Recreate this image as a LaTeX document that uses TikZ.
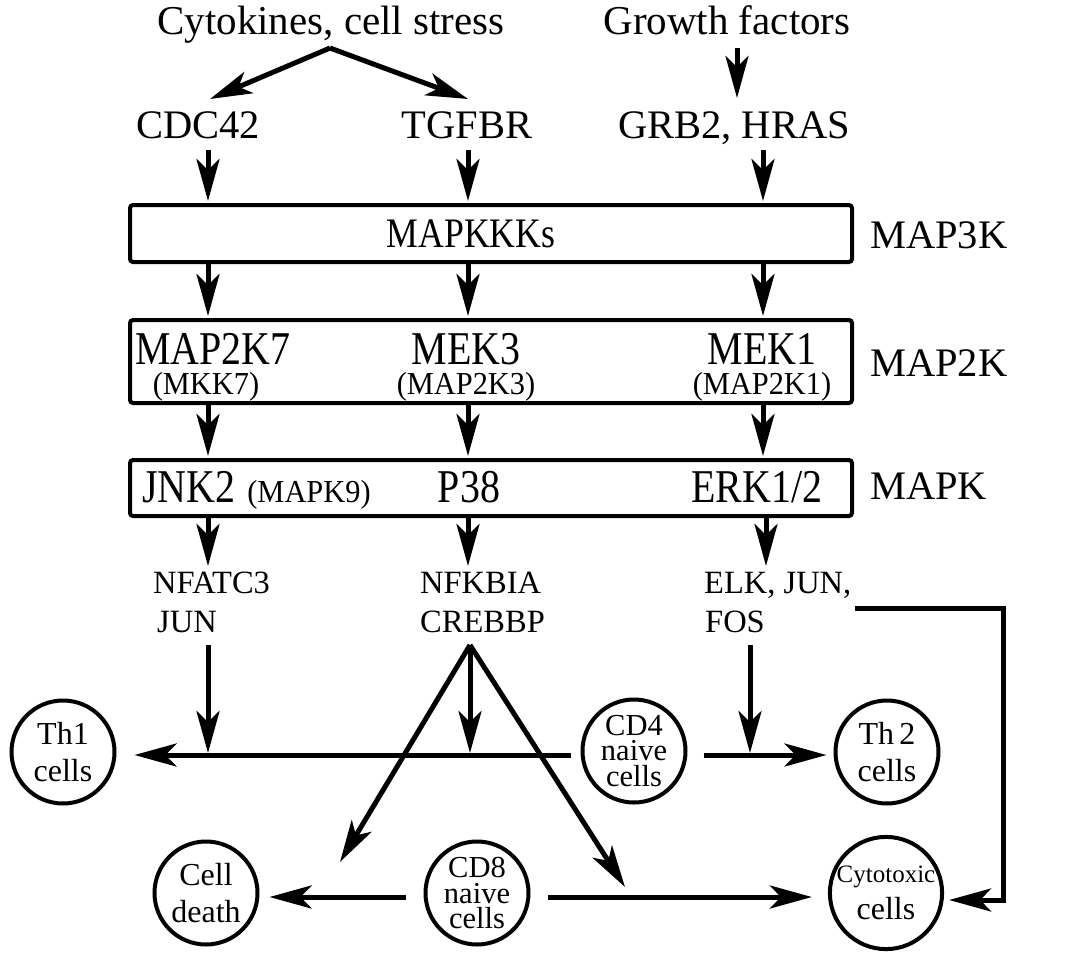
\documentclass[tikz,border=0pt]{standalone}
\usepackage{fontspec}
\setmainfont{Liberation Serif}
\newfontfamily\condfont{Liberation Serif}[FakeStretch=0.85]
\newfontfamily\parfont{Liberation Serif}[FakeStretch=0.95]
\usetikzlibrary{arrows.meta}
\newcommand\fsTitle{\fontsize{41}{45}\selectfont}
\newcommand\fsGene{\fontsize{40.5}{45}\selectfont}
\newcommand\fsKKK{\condfont\fontsize{42}{46}\selectfont}
\newcommand\fsBox{\condfont\fontsize{47}{52}\selectfont}
\newcommand\fsPar{\parfont\fontsize{32}{36}\selectfont}
\newcommand\fsSmall{\fontsize{32.5}{39}\selectfont}
\tikzset{
  arr/.style={line width=5pt, -{Stealth[length=42pt,width=23pt,inset=11pt]}},
  stagebox/.style={draw, line width=4pt, rounded corners=3pt, inner sep=0pt},
  lbl/.style={inner sep=0pt, anchor=base},
  lblw/.style={inner sep=0pt, anchor=base west},
  cell/.style={draw, circle, line width=4pt, minimum size=103pt, inner sep=0pt, align=center,
    font=\fontsize{32}{37}\selectfont},
  cellnaive/.style={cell, font=\fontsize{30.5}{25.5}\selectfont},
}
\begin{document}
\begin{tikzpicture}[x=1pt,y=-1pt]
\useasboundingbox (0,0) rectangle (1069,954);
% columns and rows
\coordinate (c1) at (208,0);
\coordinate (c2) at (468,0);
\coordinate (c3) at (763,0);
\coordinate (rowA) at (0,755);
\coordinate (rowB) at (0,897);

% sources
\node[lbl, font=\fsTitle] (cyt) at (331,34) {Cytokines, cell stress};
\node[lbl, font=\fsTitle] (gf) at (727,34) {Growth factors};
\node[lbl, font=\fsGene] (cdc) at (198,138) {CDC42};
\node[lbl, font=\fsGene] (tgf) at (467,138) {TGFBR};
\node[lbl, font=\fsGene] (grb) at (734,138) {GRB2, HRAS};
\coordinate (apexTop) at (330,48);

\draw[arr] (apexTop) -- (210,99);
\draw[arr] (apexTop) -- (468,99);
\draw[arr] ([yshift=-14pt]gf.base -| 737,0) -- (737,98);

% stage boxes
\node[stagebox, minimum width=722pt, minimum height=57pt] (b1) at (491,233.5) {};
\node[stagebox, minimum width=722pt, minimum height=83pt] (b2) at (491,361.5) {};
\node[stagebox, minimum width=722pt, minimum height=56pt] (b3) at (491,488) {};

\node[lbl, font=\fsKKK] (kkk) at (471,247) {MAPKKKs};
\node[lbl, font=\fsBox] (m2k7) at (213,364) {MAP2K7};
\node[lbl, font=\fsPar] (mkk7) at (206,394) {(MKK7)};
\node[lbl, font=\fsBox] (mek3) at (466,364) {MEK3};
\node[lbl, font=\fsPar] (map2k3) at (466,394) {(MAP2K3)};
\node[lbl, font=\fsBox] (mek1) at (762,364) {MEK1};
\node[lbl, font=\fsPar] (map2k1) at (762,394) {(MAP2K1)};
\node[lbl, font=\fsBox] (jnk) at (189,502) {JNK2};
\node[lbl, font=\fsPar] (mapk9) at (309,502) {(MAPK9)};
\node[lbl, font=\fsBox] (p38) at (469,502) {P38};
\node[lbl, font=\fsBox] (erk) at (757,502) {ERK1/2};

\node[lblw, font=\fsGene] (l3) at (870,248) {MAP3K};
\node[lblw, font=\fsGene] (l2) at (870,376) {MAP2K};
\node[lblw, font=\fsGene] (l1) at (870,499) {MAPK};

% arrows into and between boxes
\draw[arr] ([yshift=-12pt]cdc.base -| c1) -- ([yshift=2pt]b1.north -| c1);
\draw[arr] ([yshift=-12pt]tgf.base -| c2) -- ([yshift=2pt]b1.north -| c2);
\draw[arr] ([yshift=-12pt]grb.base -| c3) -- ([yshift=2pt]b1.north -| c3);
\draw[arr] (b1.south -| c1) -- ([yshift=2pt]b2.north -| c1);
\draw[arr] (b1.south -| c2) -- ([yshift=2pt]b2.north -| c2);
\draw[arr] (b1.south -| c3) -- ([yshift=2pt]b2.north -| c3);
\draw[arr] (b2.south -| c1) -- ([yshift=2pt]b3.north -| c1);
\draw[arr] (b2.south -| c2) -- ([yshift=2pt]b3.north -| c2);
\draw[arr] (b2.south -| c3) -- ([yshift=2pt]b3.north -| c3);

% transcription factors
\node[lblw, font=\fsSmall] (tf1a) at (153,593) {NFATC3};
\node[lblw, font=\fsSmall] (tf1b) at (157,632) {JUN};
\node[lblw, font=\fsSmall] (tf2a) at (420,593) {NFKBIA};
\node[lblw, font=\fsSmall] (tf2b) at (420,632) {CREBBP};
\node[lblw, font=\fsSmall] (tf3a) at (704,593) {ELK, JUN,};
\node[lblw, font=\fsSmall] (tf3b) at (705,632) {FOS};

\draw[arr] (b3.south -| c1) -- (208,566);
\draw[arr] (b3.south -| c2) -- (468,566);
\draw[arr] (b3.south -| 766,0) -- (766,566);

% cells
\node[cell] (th1) at (63,752) {Th1\\cells};
\node[cellnaive] (cd4) at (634,751) {CD4\\naive\\cells};
\node[cell] (th2) at (887,752) {Th\,2\\cells};
\node[cell] (death) at (206,893) {Cell\\death};
\node[cellnaive] (cd8) at (477,893) {CD8\\naive\\cells};
\node[cell] (ctx) at (886,893) {{\fontsize{25}{37}\selectfont Cytotoxic}\\cells};

% lower connections
\coordinate (apexM) at (470,645);
\coordinate (tipL) at (340,862);
\coordinate (tipR) at (625,887);
\draw[arr] (208,645) -- (208,753);
\draw[arr] (apexM) -- (470,753);
\draw[arr] (750,645) -- (750,753);
\draw[arr, line join=miter] (apexM) -- (tipL);
\draw[arr, line join=miter] (apexM) -- (tipR);
\draw[arr] ([xshift=-10pt]cd4.west |- rowA) -- ([xshift=18pt]th1.east |- rowA);
\draw[arr] ([xshift=16pt]cd4.east |- rowA) -- ([xshift=-7pt]th2.west |- rowA);
\draw[arr] ([xshift=-18pt]cd8.west |- rowB) -- ([xshift=10pt]death.east |- rowB);
\draw[arr] ([xshift=17pt]cd8.east |- rowB) -- ([xshift=-16pt]ctx.west |- rowB);
\coordinate (brA) at (855,608);
\coordinate (brB) at (1003,900);
\draw[arr, line join=miter] (brA) -| (brB) -- ([xshift=5pt]ctx.east |- brB);
\end{tikzpicture}
\end{document}
